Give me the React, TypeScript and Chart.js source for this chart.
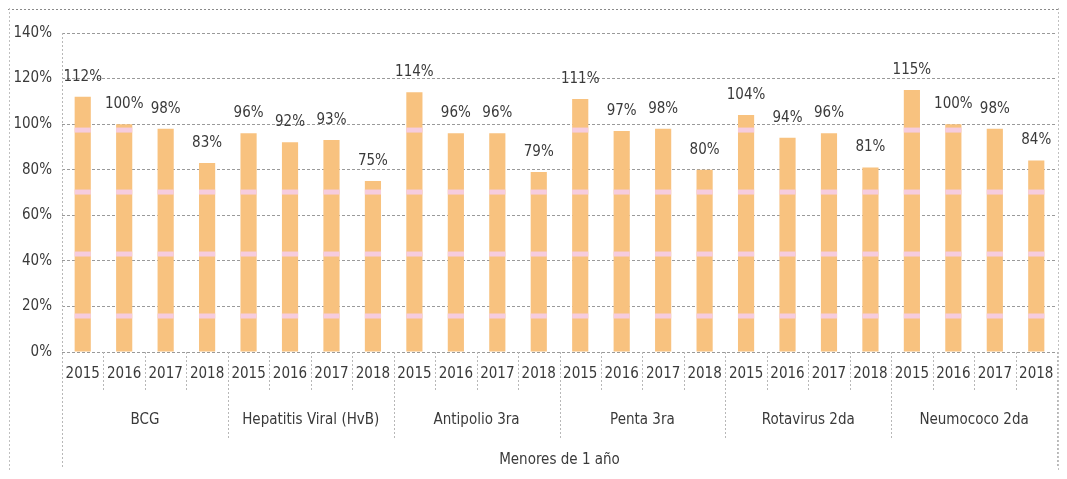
import React, { useEffect, useRef } from "react";
import { Chart, registerables } from "chart.js";

Chart.register(...registerables);

const groups = ["BCG", "Hepatitis Viral (HvB)", "Antipolio 3ra", "Penta 3ra", "Rotavirus 2da", "Neumococo 2da"];
const years = ["2015", "2016", "2017", "2018"];
const bcg = [112, 100, 98, 83];
const hvb = [96, 92, 93, 75];
const antipolio = [114, 96, 96, 79];
const penta = [111, 97, 98, 80];
const rotavirus = [104, 94, 96, 81];
const neumococo = [115, 100, 98, 84];
const axisTitle = "Menores de 1 año";
const yMax = 140;
const yStep = 20;
// faint scan stripes seen across the bars (value levels)
const stripeLevels = [15.8, 43, 70.2, 97.4];

const FONT = "'Liberation Sans Narrow','DejaVu Sans Condensed','Open Sans',sans-serif";
const TEXT = "#3a3a3a";
const BAR = "#F8C27F";

export default function App() {
  const ref = useRef<HTMLCanvasElement>(null);
  useEffect(() => {
    const series = [bcg, hvb, antipolio, penta, rotavirus, neumococo];
    const labels: string[] = [];
    const data: number[] = [];
    groups.forEach((g, gi) => {
      years.forEach((y, yi) => {
        labels.push(y);
        data.push(series[gi][yi]);
      });
    });

    const decor = {
      id: "decor",
      afterDatasetsDraw(chart: any) {
        const ctx = chart.ctx;
        const ys = chart.scales.y;
        const meta = chart.getDatasetMeta(0);
        ctx.save();
        ctx.fillStyle = "rgba(246,204,228,0.95)";
        meta.data.forEach((bar: any, i: number) => {
          const v = data[i];
          stripeLevels.forEach((lv) => {
            if (v > lv + 1) {
              const yy = ys.getPixelForValue(lv);
              ctx.fillRect(bar.x - bar.width / 2, yy - 2.5, bar.width, 5);
            }
          });
        });
        ctx.fillStyle = TEXT;
        ctx.font = `15px ${FONT}`;
        ctx.textAlign = "center";
        ctx.textBaseline = "middle";
        meta.data.forEach((bar: any, i: number) => {
          ctx.fillText(`${data[i]}%`, bar.x, bar.y - 20);
        });
        ctx.restore();
      },
      afterDraw(chart: any) {
        const ctx = chart.ctx;
        const area = chart.chartArea;
        const n = labels.length;
        const cw = (area.right - area.left) / n;
        const H = chart.height;
        const W = chart.width;
        ctx.save();
        ctx.strokeStyle = "#b8b8b8";
        ctx.lineWidth = 1;
        ctx.setLineDash([2, 2]);
        for (let i = 0; i <= n; i++) {
          const x = Math.round(area.left + i * cw) + 0.5;
          let y2 = area.bottom + 38;
          let y1 = area.bottom;
          if (i === 0 || i === n) {
            y2 = H - 4;
            if (i === 0) y1 = area.top;
          } else if (i % years.length === 0) {
            y2 = area.bottom + 86;
          }
          ctx.beginPath();
          ctx.moveTo(x, y1);
          ctx.lineTo(x, y2);
          ctx.stroke();
        }
        ctx.strokeStyle = "#8a8a8a";
        ctx.beginPath();
        ctx.moveTo(0, 1.5);
        ctx.lineTo(W, 1.5);
        ctx.stroke();
        ctx.strokeStyle = "#c0c0c0";
        ctx.beginPath();
        ctx.moveTo(1.5, 0);
        ctx.lineTo(1.5, H);
        ctx.moveTo(W - 0.5, 0);
        ctx.lineTo(W - 0.5, H);
        ctx.stroke();
        ctx.setLineDash([]);
        ctx.fillStyle = TEXT;
        ctx.font = `15px ${FONT}`;
        ctx.textAlign = "center";
        ctx.textBaseline = "middle";
        groups.forEach((g, gi) => {
          const cx = area.left + (gi * years.length + years.length / 2) * cw;
          ctx.fillText(g, cx, area.bottom + 68);
        });
        ctx.fillText(axisTitle, (area.left + area.right) / 2, area.bottom + 108);
        ctx.restore();
      },
    };

    const chart = new Chart(ref.current!, {
      type: "bar",
      data: {
        labels,
        datasets: [
          {
            data,
            backgroundColor: BAR,
            barPercentage: 0.39,
            categoryPercentage: 1,
          },
        ],
      },
      options: {
        animation: false,
        responsive: false,
        maintainAspectRatio: false,
        layout: { padding: { top: 25, right: 2, left: 0, bottom: 0 } },
        plugins: { legend: { display: false }, tooltip: { enabled: false } },
        scales: {
          x: {
            grid: { display: false },
            border: { display: false },
            ticks: { color: TEXT, font: { family: FONT, size: 15 }, padding: 5, maxRotation: 0, autoSkip: false },
            afterFit: (s: any) => {
              s.height = 119;
              s.paddingLeft = 0;
              s.paddingRight = 0;
            },
          },
          y: {
            min: 0,
            max: yMax,
            ticks: {
              stepSize: yStep,
              color: TEXT,
              font: { family: FONT, size: 15 },
              padding: 10,
              callback: (v: any) => `${v}%`,
            },
            grid: { color: "#9a9a9a", drawTicks: false, lineWidth: 1 },
            border: { display: false, dash: [3, 2] },
            afterFit: (s: any) => {
              s.width = 54;
            },
          },
        },
      },
      plugins: [decor],
    });
    return () => chart.destroy();
  }, []);

  return (
    <div style={{ width: 1051, height: 463 }}>
      <canvas ref={ref} width={1051} height={463} style={{ display: "block" }} />
    </div>
  );
}
